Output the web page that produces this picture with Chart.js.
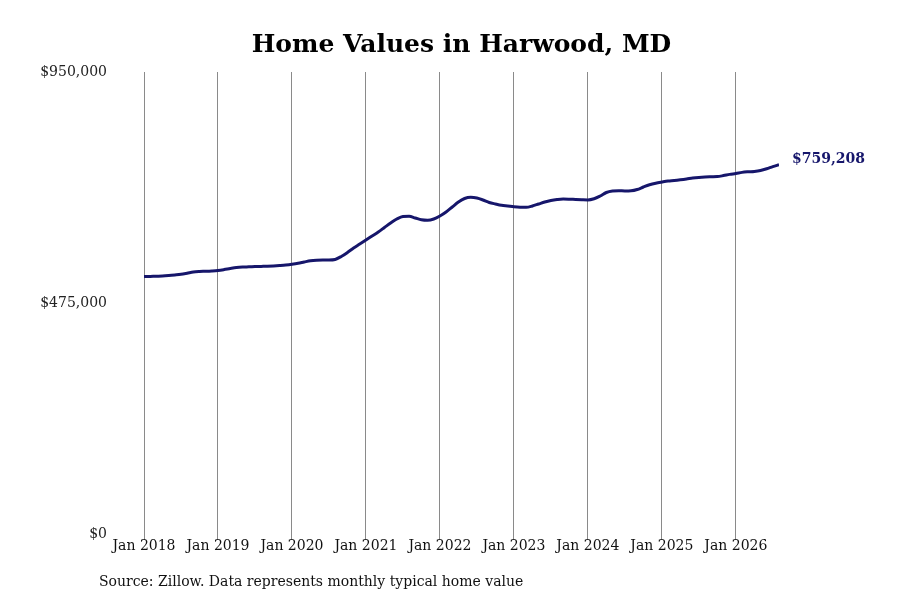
<!DOCTYPE html>
<html>
<head>
<meta charset="utf-8">
<script src="https://cdn.jsdelivr.net/npm/chart.js@4"></script>
<style>
  body { margin: 0; background: #fff; }
  #wrap { width: 900px; height: 600px; }
</style>
</head>
<body>
<div id="wrap"><canvas id="myChart" width="900" height="600"></canvas></div>
<script>
// monthly typical home value, Jan 2018 .. Aug 2026
const values = [
  529300, 529700, 530100, 530500, 531400, 532600, 534000, 536300, 538800, 539800, 540200, 540800,
  541800, 543700, 546000, 548000, 549000, 549400, 549900, 550300, 550700, 551300, 552100, 553100,
  554600, 556600, 559300, 561800, 563000, 563400, 563400, 564500, 570600, 578900, 588100, 596300,
  604600, 612800, 621000, 630300, 639500, 647700, 652900, 653300, 649800, 646100, 645100, 647700,
  653900, 662100, 672400, 682700, 689900, 692400, 690900, 686800, 681700, 678600, 675900, 674500,
  673000, 672000, 671800, 674500, 678600, 682700, 685800, 687800, 688900, 688500, 687800, 687200,
  686800, 689300, 695000, 702200, 705300, 705900, 705300, 705700, 708400, 713500, 718100, 721400,
  723800, 725900, 726900, 728300, 730000, 732000, 733300, 734100, 734500, 734900, 737000, 739500,
  741300, 743600, 744800, 745600, 747500, 751000, 755500, 759208
];
const tickLabels = ['Jan 2018', 'Jan 2019', 'Jan 2020', 'Jan 2021', 'Jan 2022',
                    'Jan 2023', 'Jan 2024', 'Jan 2025', 'Jan 2026'];
const yTicks = [0, 475000, 950000];
const titleText = 'Home Values in Harwood, MD';
const sourceText = 'Source: Zillow. Data represents monthly typical home value';

const lineColor = '#16166b';
const money = v => '$' + Math.round(v).toLocaleString('en-US');

// label at the end of the line + source note
const extras = {
  id: 'extras',
  afterDatasetsDraw(chart) {
    const ctx = chart.ctx;
    const xs = chart.scales.x, ys = chart.scales.y;
    const last = values.length - 1;
    const px = xs.getPixelForValue(last);
    const py = ys.getPixelForValue(values[last]);
    ctx.save();
    ctx.font = 'bold 14px "DejaVu Serif"';
    ctx.fillStyle = lineColor;
    ctx.textAlign = 'left';
    ctx.textBaseline = 'middle';
    ctx.fillText(money(values[last]), px + 13, py - 5);
    ctx.font = '14px "DejaVu Serif"';
    ctx.fillStyle = '#111';
    ctx.fillText(sourceText, 99, 582);
    ctx.restore();
  }
};

const ctx = document.getElementById('myChart').getContext('2d');
const myChart = new Chart(ctx, {
  type: 'line',
  data: {
    datasets: [{
      data: values.map((v, i) => ({ x: i, y: v })),
      borderColor: lineColor,
      borderWidth: 3,
      pointRadius: 0,
      fill: false,
      cubicInterpolationMode: 'monotone'
    }]
  },
  options: {
    responsive: false,
    animation: false,
    layout: { padding: { left: 0, right: 121, top: 0, bottom: 0 } },
    plugins: {
      legend: { display: false },
      tooltip: { enabled: false },
      title: {
        display: true,
        fullSize: false,
        text: titleText,
        color: '#000',
        font: { family: '"DejaVu Serif"', size: 25, weight: 'bold', lineHeight: 1.2 },
        padding: { top: 30.5, bottom: 11.5 }
      }
    },
    scales: {
      x: {
        type: 'linear',
        min: 0,
        max: values.length - 1,
        grid: { color: '#8a8a8a', lineWidth: 1, drawTicks: true, tickLength: 6 },
        border: { display: false },
        ticks: {
          stepSize: 12,
          includeBounds: false,
          autoSkip: false,
          maxRotation: 0,
          padding: -2,
          color: '#111',
          font: { family: '"DejaVu Serif"', size: 14 },
          callback: v => tickLabels[v / 12]
        },
        afterFit: s => { s.height = 66; }
      },
      y: {
        min: 0,
        max: 950000,
        afterBuildTicks: s => { s.ticks = yTicks.map(v => ({ value: v })); },
        grid: { display: false, drawTicks: false },
        border: { display: false },
        ticks: {
          padding: 37,
          color: '#222',
          font: { family: '"DejaVu Serif"', size: 14 },
          callback: v => money(v)
        },
        afterFit: s => { s.width = 144; }
      }
    }
  },
  plugins: [extras]
});
</script>
</body>
</html>
